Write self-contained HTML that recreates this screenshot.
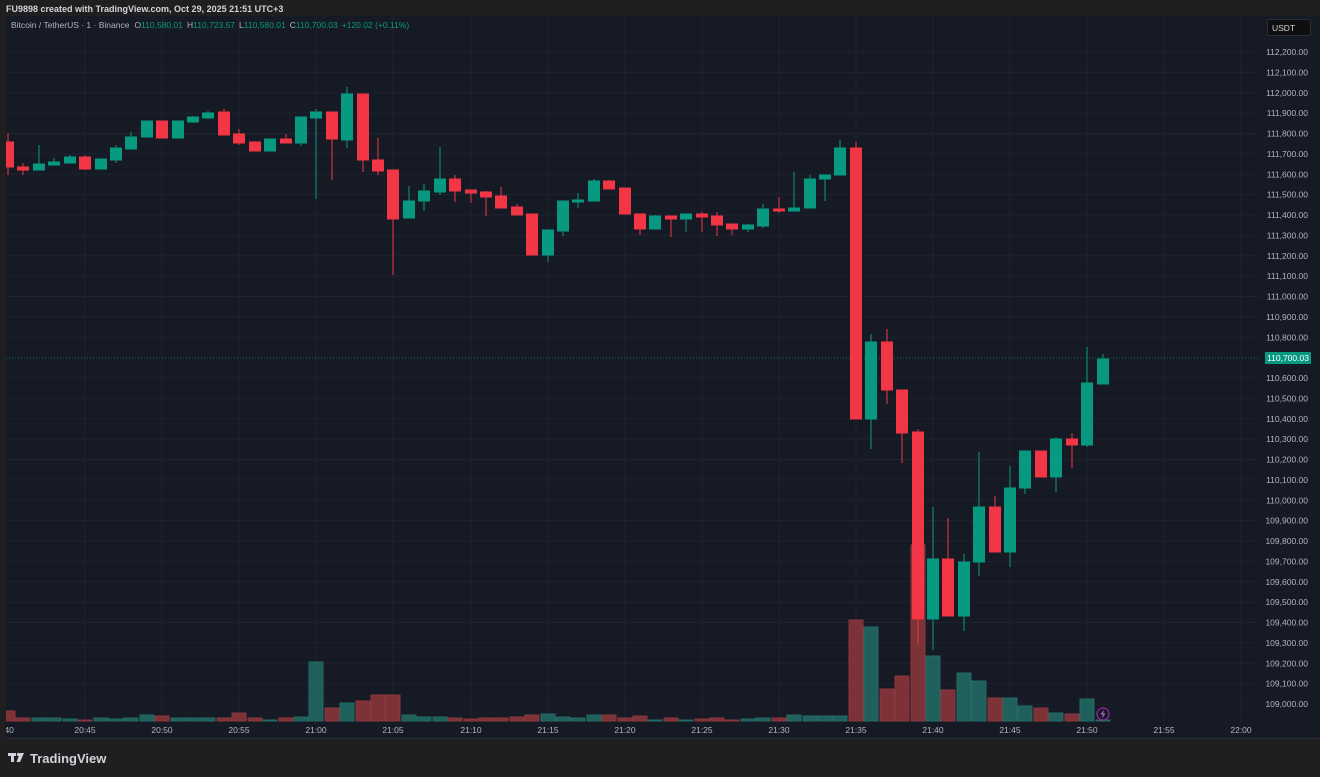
<!DOCTYPE html>
<html><head><meta charset="utf-8"><style>
html,body{margin:0;padding:0;background:#1f1f1f;width:1320px;height:777px;overflow:hidden}
svg{display:block}
text{font-family:"Liberation Sans",sans-serif}
</style></head><body>
<svg width="1320" height="777" viewBox="0 0 1320 777" xmlns="http://www.w3.org/2000/svg">
<rect width="1320" height="777" fill="#1f1f1f"/>
<text x="6" y="12" font-size="9" fill="#d1d4dc" font-weight="600">FU9898 created with TradingView.com, Oct 29, 2025 21:51 UTC+3</text>
<rect x="6" y="16" width="1314" height="723" fill="#161a25"/>
<rect x="6" y="738" width="1314" height="1" fill="#2a2e39"/>
<defs><clipPath id="pc"><rect x="6" y="16" width="1254" height="706"/></clipPath></defs>
<g stroke="#1f2330" stroke-width="1">
<line x1="6" x2="1260" y1="52" y2="52"/><line x1="6" x2="1260" y1="72.4" y2="72.4"/><line x1="6" x2="1260" y1="92.8" y2="92.8"/><line x1="6" x2="1260" y1="113.1" y2="113.1"/><line x1="6" x2="1260" y1="133.5" y2="133.5"/><line x1="6" x2="1260" y1="153.9" y2="153.9"/><line x1="6" x2="1260" y1="174.3" y2="174.3"/><line x1="6" x2="1260" y1="194.6" y2="194.6"/><line x1="6" x2="1260" y1="215" y2="215"/><line x1="6" x2="1260" y1="235.4" y2="235.4"/><line x1="6" x2="1260" y1="255.8" y2="255.8"/><line x1="6" x2="1260" y1="276.1" y2="276.1"/><line x1="6" x2="1260" y1="296.5" y2="296.5"/><line x1="6" x2="1260" y1="316.9" y2="316.9"/><line x1="6" x2="1260" y1="337.3" y2="337.3"/><line x1="6" x2="1260" y1="378" y2="378"/><line x1="6" x2="1260" y1="398.4" y2="398.4"/><line x1="6" x2="1260" y1="418.8" y2="418.8"/><line x1="6" x2="1260" y1="439.1" y2="439.1"/><line x1="6" x2="1260" y1="459.5" y2="459.5"/><line x1="6" x2="1260" y1="479.9" y2="479.9"/><line x1="6" x2="1260" y1="500.3" y2="500.3"/><line x1="6" x2="1260" y1="520.6" y2="520.6"/><line x1="6" x2="1260" y1="541" y2="541"/><line x1="6" x2="1260" y1="561.4" y2="561.4"/><line x1="6" x2="1260" y1="581.8" y2="581.8"/><line x1="6" x2="1260" y1="602.1" y2="602.1"/><line x1="6" x2="1260" y1="622.5" y2="622.5"/><line x1="6" x2="1260" y1="642.9" y2="642.9"/><line x1="6" x2="1260" y1="663.3" y2="663.3"/><line x1="6" x2="1260" y1="683.6" y2="683.6"/><line x1="6" x2="1260" y1="704" y2="704"/>
<line x1="85" x2="85" y1="16" y2="722"/><line x1="162" x2="162" y1="16" y2="722"/><line x1="239" x2="239" y1="16" y2="722"/><line x1="316" x2="316" y1="16" y2="722"/><line x1="393" x2="393" y1="16" y2="722"/><line x1="471" x2="471" y1="16" y2="722"/><line x1="548" x2="548" y1="16" y2="722"/><line x1="625" x2="625" y1="16" y2="722"/><line x1="702" x2="702" y1="16" y2="722"/><line x1="779" x2="779" y1="16" y2="722"/><line x1="856" x2="856" y1="16" y2="722"/><line x1="933" x2="933" y1="16" y2="722"/><line x1="1010" x2="1010" y1="16" y2="722"/><line x1="1087" x2="1087" y1="16" y2="722"/><line x1="1164" x2="1164" y1="16" y2="722"/><line x1="1241" x2="1241" y1="16" y2="722"/>
</g>
<g clip-path="url(#pc)">
<g stroke-width="1">
<g fill="#7c3237" stroke="#8b363c">
<rect x="1" y="711" width="14" height="10"/><rect x="16" y="718" width="14" height="3"/><rect x="78" y="720" width="14" height="1"/><rect x="155" y="716" width="14" height="5"/><rect x="217" y="718" width="14" height="3"/><rect x="232" y="713" width="14" height="8"/><rect x="248" y="718" width="14" height="3"/><rect x="279" y="718" width="14" height="3"/><rect x="325" y="708" width="14" height="13"/><rect x="356" y="701" width="14" height="20"/><rect x="371" y="695" width="14" height="26"/><rect x="386" y="695" width="14" height="26"/><rect x="448" y="718" width="14" height="3"/><rect x="464" y="719" width="14" height="2"/><rect x="479" y="718" width="14" height="3"/><rect x="494" y="718" width="14" height="3"/><rect x="510" y="717" width="14" height="4"/><rect x="525" y="715" width="14" height="6"/><rect x="602" y="715" width="14" height="6"/><rect x="618" y="718" width="14" height="3"/><rect x="633" y="716" width="14" height="5"/><rect x="664" y="718" width="14" height="3"/><rect x="695" y="719" width="14" height="2"/><rect x="710" y="718" width="14" height="3"/><rect x="725" y="720" width="14" height="1"/><rect x="772" y="718" width="14" height="3"/><rect x="849" y="620" width="14" height="101"/><rect x="880" y="689" width="14" height="32"/><rect x="895" y="676" width="14" height="45"/><rect x="911" y="545" width="14" height="176"/><rect x="941" y="690" width="14" height="31"/><rect x="988" y="698" width="14" height="23"/><rect x="1034" y="708" width="14" height="13"/><rect x="1065" y="714" width="14" height="7"/>
</g>
<g fill="#1f5f5c" stroke="#246b66">
<rect x="32" y="718" width="14" height="3"/><rect x="47" y="718" width="14" height="3"/><rect x="63" y="719" width="14" height="2"/><rect x="94" y="718" width="14" height="3"/><rect x="109" y="719" width="14" height="2"/><rect x="124" y="718" width="14" height="3"/><rect x="140" y="715" width="14" height="6"/><rect x="171" y="718" width="14" height="3"/><rect x="186" y="718" width="14" height="3"/><rect x="201" y="718" width="14" height="3"/><rect x="263" y="720" width="14" height="1"/><rect x="294" y="717" width="14" height="4"/><rect x="309" y="662" width="14" height="59"/><rect x="340" y="703" width="14" height="18"/><rect x="402" y="715" width="14" height="6"/><rect x="417" y="717" width="14" height="4"/><rect x="433" y="717" width="14" height="4"/><rect x="541" y="714" width="14" height="7"/><rect x="556" y="717" width="14" height="4"/><rect x="571" y="718" width="14" height="3"/><rect x="587" y="715" width="14" height="6"/><rect x="648" y="720" width="14" height="1"/><rect x="679" y="720" width="14" height="1"/><rect x="741" y="719" width="14" height="2"/><rect x="756" y="718" width="14" height="3"/><rect x="787" y="715" width="14" height="6"/><rect x="803" y="716" width="14" height="5"/><rect x="818" y="716" width="14" height="5"/><rect x="833" y="716" width="14" height="5"/><rect x="864" y="627" width="14" height="94"/><rect x="926" y="656" width="14" height="65"/><rect x="957" y="673" width="14" height="48"/><rect x="972" y="681" width="14" height="40"/><rect x="1003" y="698" width="14" height="23"/><rect x="1018" y="706" width="14" height="15"/><rect x="1049" y="713" width="14" height="8"/><rect x="1080" y="699" width="14" height="22"/><rect x="1096" y="720" width="14" height="1"/>
</g>
</g>
<line x1="6" x2="1260" y1="358" y2="358" stroke="#089981" stroke-width="1" stroke-dasharray="1,2" opacity="0.7"/>
<g stroke="#f23645" fill="#f23645" stroke-width="1">
<line x1="8" x2="8" y1="133" y2="175"/><rect x="2.5" y="142" width="11" height="25"/>
<line x1="23" x2="23" y1="163" y2="175"/><rect x="17.5" y="167" width="11" height="3"/>
<line x1="85" x2="85" y1="155" y2="170"/><rect x="79.5" y="157" width="11" height="12"/>
<line x1="162" x2="162" y1="121" y2="138"/><rect x="156.5" y="121" width="11" height="17"/>
<line x1="224" x2="224" y1="109" y2="135"/><rect x="218.5" y="112" width="11" height="23"/>
<line x1="239" x2="239" y1="129" y2="145"/><rect x="233.5" y="134" width="11" height="9"/>
<line x1="255" x2="255" y1="141" y2="151"/><rect x="249.5" y="142" width="11" height="9"/>
<line x1="286" x2="286" y1="134" y2="143"/><rect x="280.5" y="139" width="11" height="4"/>
<line x1="332" x2="332" y1="112" y2="180"/><rect x="326.5" y="112" width="11" height="27"/>
<line x1="363" x2="363" y1="94" y2="172"/><rect x="357.5" y="94" width="11" height="66"/>
<line x1="378" x2="378" y1="138" y2="175"/><rect x="372.5" y="160" width="11" height="11"/>
<line x1="393" x2="393" y1="170" y2="275"/><rect x="387.5" y="170" width="11" height="49"/>
<line x1="455" x2="455" y1="175" y2="202"/><rect x="449.5" y="179" width="11" height="12"/>
<line x1="471" x2="471" y1="190" y2="203"/><rect x="465.5" y="190" width="11" height="3"/>
<line x1="486" x2="486" y1="191" y2="216"/><rect x="480.5" y="192" width="11" height="5"/>
<line x1="501" x2="501" y1="187" y2="208"/><rect x="495.5" y="196" width="11" height="12"/>
<line x1="517" x2="517" y1="204" y2="215"/><rect x="511.5" y="207" width="11" height="8"/>
<line x1="532" x2="532" y1="214" y2="255"/><rect x="526.5" y="214" width="11" height="41"/>
<line x1="609" x2="609" y1="180" y2="189"/><rect x="603.5" y="181" width="11" height="8"/>
<line x1="625" x2="625" y1="188" y2="214"/><rect x="619.5" y="188" width="11" height="26"/>
<line x1="640" x2="640" y1="214" y2="235"/><rect x="634.5" y="214" width="11" height="15"/>
<line x1="671" x2="671" y1="216" y2="237"/><rect x="665.5" y="216" width="11" height="3"/>
<line x1="702" x2="702" y1="212" y2="232"/><rect x="696.5" y="214" width="11" height="3"/>
<line x1="717" x2="717" y1="212" y2="236"/><rect x="711.5" y="216" width="11" height="9"/>
<line x1="732" x2="732" y1="224" y2="235"/><rect x="726.5" y="224" width="11" height="5"/>
<line x1="779" x2="779" y1="197" y2="213"/><rect x="773.5" y="209" width="11" height="2"/>
<line x1="856" x2="856" y1="142" y2="419"/><rect x="850.5" y="148" width="11" height="271"/>
<line x1="887" x2="887" y1="329" y2="404"/><rect x="881.5" y="342" width="11" height="48"/>
<line x1="902" x2="902" y1="390" y2="463"/><rect x="896.5" y="390" width="11" height="43"/>
<line x1="918" x2="918" y1="429" y2="644"/><rect x="912.5" y="432" width="11" height="187"/>
<line x1="948" x2="948" y1="518" y2="616"/><rect x="942.5" y="559" width="11" height="57"/>
<line x1="995" x2="995" y1="496" y2="552"/><rect x="989.5" y="507" width="11" height="45"/>
<line x1="1041" x2="1041" y1="451" y2="477"/><rect x="1035.5" y="451" width="11" height="26"/>
<line x1="1072" x2="1072" y1="433" y2="468"/><rect x="1066.5" y="439" width="11" height="6"/>
</g>
<g stroke="#089981" fill="#089981" stroke-width="1">
<line x1="39" x2="39" y1="145" y2="170"/><rect x="33.5" y="164" width="11" height="6"/>
<line x1="54" x2="54" y1="158" y2="165"/><rect x="48.5" y="162" width="11" height="3"/>
<line x1="70" x2="70" y1="155" y2="163"/><rect x="64.5" y="157" width="11" height="6"/>
<line x1="101" x2="101" y1="159" y2="169"/><rect x="95.5" y="159" width="11" height="10"/>
<line x1="116" x2="116" y1="145" y2="163"/><rect x="110.5" y="148" width="11" height="12"/>
<line x1="131" x2="131" y1="132" y2="149"/><rect x="125.5" y="137" width="11" height="12"/>
<line x1="147" x2="147" y1="121" y2="137"/><rect x="141.5" y="121" width="11" height="16"/>
<line x1="178" x2="178" y1="121" y2="138"/><rect x="172.5" y="121" width="11" height="17"/>
<line x1="193" x2="193" y1="116" y2="123"/><rect x="187.5" y="117" width="11" height="5"/>
<line x1="208" x2="208" y1="111" y2="119"/><rect x="202.5" y="113" width="11" height="5"/>
<line x1="270" x2="270" y1="139" y2="151"/><rect x="264.5" y="139" width="11" height="12"/>
<line x1="301" x2="301" y1="117" y2="146"/><rect x="295.5" y="117" width="11" height="26"/>
<line x1="316" x2="316" y1="109" y2="199"/><rect x="310.5" y="112" width="11" height="6"/>
<line x1="347" x2="347" y1="87" y2="148"/><rect x="341.5" y="94" width="11" height="46"/>
<line x1="409" x2="409" y1="186" y2="218"/><rect x="403.5" y="201" width="11" height="17"/>
<line x1="424" x2="424" y1="184" y2="211"/><rect x="418.5" y="191" width="11" height="10"/>
<line x1="440" x2="440" y1="147" y2="195"/><rect x="434.5" y="179" width="11" height="13"/>
<line x1="548" x2="548" y1="230" y2="262"/><rect x="542.5" y="230" width="11" height="25"/>
<line x1="563" x2="563" y1="201" y2="236"/><rect x="557.5" y="201" width="11" height="30"/>
<line x1="578" x2="578" y1="193" y2="208"/><rect x="572.5" y="200" width="11" height="2"/>
<line x1="594" x2="594" y1="179" y2="201"/><rect x="588.5" y="181" width="11" height="20"/>
<line x1="655" x2="655" y1="215" y2="229"/><rect x="649.5" y="216" width="11" height="13"/>
<line x1="686" x2="686" y1="214" y2="232"/><rect x="680.5" y="214" width="11" height="5"/>
<line x1="748" x2="748" y1="224" y2="232"/><rect x="742.5" y="225" width="11" height="4"/>
<line x1="763" x2="763" y1="204" y2="228"/><rect x="757.5" y="209" width="11" height="17"/>
<line x1="794" x2="794" y1="172" y2="211"/><rect x="788.5" y="208" width="11" height="3"/>
<line x1="810" x2="810" y1="175" y2="208"/><rect x="804.5" y="179" width="11" height="29"/>
<line x1="825" x2="825" y1="175" y2="201"/><rect x="819.5" y="175" width="11" height="4"/>
<line x1="840" x2="840" y1="140" y2="175"/><rect x="834.5" y="148" width="11" height="27"/>
<line x1="871" x2="871" y1="334" y2="449"/><rect x="865.5" y="342" width="11" height="77"/>
<line x1="933" x2="933" y1="507" y2="650"/><rect x="927.5" y="559" width="11" height="60"/>
<line x1="964" x2="964" y1="554" y2="631"/><rect x="958.5" y="562" width="11" height="54"/>
<line x1="979" x2="979" y1="452" y2="576"/><rect x="973.5" y="507" width="11" height="55"/>
<line x1="1010" x2="1010" y1="466" y2="567"/><rect x="1004.5" y="488" width="11" height="64"/>
<line x1="1025" x2="1025" y1="451" y2="494"/><rect x="1019.5" y="451" width="11" height="37"/>
<line x1="1056" x2="1056" y1="437" y2="492"/><rect x="1050.5" y="439" width="11" height="38"/>
<line x1="1087" x2="1087" y1="347" y2="447"/><rect x="1081.5" y="383" width="11" height="62"/>
<line x1="1103" x2="1103" y1="354" y2="384"/><rect x="1097.5" y="359" width="11" height="25"/>
</g>
</g>
<circle cx="1103" cy="714" r="6" fill="#161a25" stroke="#9c27b0" stroke-width="1.2"/>
<polygon points="1104,709.5 1100.5,714.5 1103,714.5 1102,718.5 1105.5,713.5 1103,713.5" fill="#ba68c8"/>
<text x="11" y="28" font-size="8.5" fill="#b2b5be">Bitcoin / TetherUS · 1 · Binance<tspan dx="5">O</tspan><tspan fill="#089981">110,580.01</tspan><tspan dx="4">H</tspan><tspan fill="#089981">110,723.57</tspan><tspan dx="4">L</tspan><tspan fill="#089981">110,580.01</tspan><tspan dx="4">C</tspan><tspan fill="#089981">110,700.03</tspan><tspan dx="4" fill="#089981">+120.02 (+0.11%)</tspan></text>
<rect x="1267.5" y="19.5" width="43" height="16" rx="2" fill="#0f0f0f" stroke="#2a2e39"/>
<text x="1272" y="31" font-size="8.5" fill="#d1d4dc">USDT</text>
<g font-size="8.5" fill="#b2b5be" text-anchor="end">
<text x="1308" y="55">112,200.00</text><text x="1308" y="75.4">112,100.00</text><text x="1308" y="95.8">112,000.00</text><text x="1308" y="116.1">111,900.00</text><text x="1308" y="136.5">111,800.00</text><text x="1308" y="156.9">111,700.00</text><text x="1308" y="177.3">111,600.00</text><text x="1308" y="197.6">111,500.00</text><text x="1308" y="218">111,400.00</text><text x="1308" y="238.4">111,300.00</text><text x="1308" y="258.8">111,200.00</text><text x="1308" y="279.1">111,100.00</text><text x="1308" y="299.5">111,000.00</text><text x="1308" y="319.9">110,900.00</text><text x="1308" y="340.3">110,800.00</text><text x="1308" y="381">110,600.00</text><text x="1308" y="401.4">110,500.00</text><text x="1308" y="421.8">110,400.00</text><text x="1308" y="442.1">110,300.00</text><text x="1308" y="462.5">110,200.00</text><text x="1308" y="482.9">110,100.00</text><text x="1308" y="503.3">110,000.00</text><text x="1308" y="523.6">109,900.00</text><text x="1308" y="544">109,800.00</text><text x="1308" y="564.4">109,700.00</text><text x="1308" y="584.8">109,600.00</text><text x="1308" y="605.1">109,500.00</text><text x="1308" y="625.5">109,400.00</text><text x="1308" y="645.9">109,300.00</text><text x="1308" y="666.3">109,200.00</text><text x="1308" y="686.6">109,100.00</text><text x="1308" y="707">109,000.00</text>
</g>
<rect x="1265" y="352" width="46" height="12" rx="1" fill="#089981"/>
<text x="1288" y="361" font-size="8.5" fill="#ffffff" text-anchor="middle">110,700.03</text>
<g font-size="8.5" fill="#b2b5be" text-anchor="middle">
<text x="8" y="733">:40</text><text x="85" y="733">20:45</text><text x="162" y="733">20:50</text><text x="239" y="733">20:55</text><text x="316" y="733">21:00</text><text x="393" y="733">21:05</text><text x="471" y="733">21:10</text><text x="548" y="733">21:15</text><text x="625" y="733">21:20</text><text x="702" y="733">21:25</text><text x="779" y="733">21:30</text><text x="856" y="733">21:35</text><text x="933" y="733">21:40</text><text x="1010" y="733">21:45</text><text x="1087" y="733">21:50</text><text x="1164" y="733">21:55</text><text x="1241" y="733">22:00</text>
</g>
<rect x="0" y="16" width="6" height="723" fill="#1f1f1f"/>
<g fill="#d1d4dc">
<rect x="8" y="753" width="8" height="3"/><rect x="11" y="753" width="3" height="9"/>
<circle cx="18.5" cy="754.5" r="1.6"/>
<polygon points="20,753 24,753 20,762 16.5,762"/>
</g>
<text x="30" y="763" font-size="13" fill="#d1d4dc" font-weight="bold">TradingView</text>
</svg>
</body></html>
